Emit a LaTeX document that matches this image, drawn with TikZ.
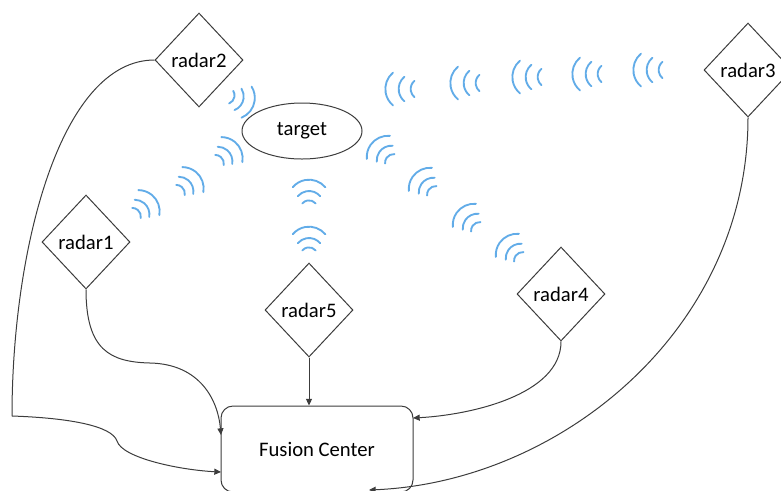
\documentclass[tikz,border=0pt]{standalone}
\usepackage{fontspec}
\setmainfont{Carlito}
\usetikzlibrary{shapes.geometric,arrows.meta}
\definecolor{wavecol}{RGB}{98,172,232}
\definecolor{linecol}{RGB}{60,60,60}
\begin{document}
\begin{tikzpicture}[x=0.75pt,y=-0.75pt,
  radar/.style={diamond, draw=linecol, line width=0.75pt, minimum width=66pt, minimum height=70.5pt, inner sep=0pt, font=\fontsize{15.5}{18}\selectfont},
  targetnode/.style={ellipse, draw=linecol, line width=0.75pt, minimum width=90pt, minimum height=42pt, inner sep=0pt, font=\fontsize{15.5}{18}\selectfont},
  fcbox/.style={rectangle, rounded corners=9pt, draw=linecol, line width=0.75pt, minimum width=144pt, minimum height=64.5pt, inner sep=0pt, font=\fontsize{15.5}{18}\selectfont},
  conn/.style={draw=linecol, line width=0.75pt, -{Triangle[length=5pt,width=4.5pt]}},
  plainline/.style={draw=linecol, line width=0.75pt},
  wavestyle/.style={draw=wavecol, line width=1.4pt, line cap=round},
  wave/.pic={
    \draw[wavestyle] ([shift={(-7.5pt,0pt)}]-50:16pt) arc[start angle=-50,end angle=50,radius=16pt];
    \draw[wavestyle] ([shift={(-11pt,0pt)}]-50:11pt) arc[start angle=-50,end angle=50,radius=11pt];
    \draw[wavestyle] ([shift={(-13.5pt,0pt)}]-50:6.5pt) arc[start angle=-50,end angle=50,radius=6.5pt];
  },
  widewave/.pic={
    \draw[wavestyle] ([shift={(-5pt,0pt)}]-50:16pt) arc[start angle=-50,end angle=50,radius=16pt];
    \draw[wavestyle] ([shift={(-11pt,0pt)}]-50:12pt) arc[start angle=-50,end angle=50,radius=12pt];
    \draw[wavestyle] ([shift={(-16pt,0pt)}]-50:8pt) arc[start angle=-50,end angle=50,radius=8pt];
  }]
\useasboundingbox (0,0) rectangle (781,490);

% nodes
\node[radar] (r1) at (86,242) {radar1};
\node[radar] (r2) at (199,60) {radar2};
\node[radar] (r3) at (748,70) {radar3};
\node[radar] (r4) at (561,294) {radar4};
\node[radar] (r5) at (309,310) {radar5};
\node[targetnode] (tg) at (302,131) {target};
\node[fcbox] (fc) at (317,449) {Fusion Center};

% connector end points on the fusion center
\coordinate (fcin1) at (221,435);
\coordinate (fcin2) at (221,472);
\coordinate (fcin3) at (413,418);
\coordinate (fcin4) at (369,490);
\coordinate (bend) at (12,416);
\coordinate (kink) at (117,441);

% connectors
\draw[conn] (r5.south) -- (fc.north -| r5.south);
\draw[conn] (r1.south) .. controls (86,350) and (110,362) .. (150,363) .. controls (200,364) and (218,400) .. (fcin1);
\draw[plainline] (r2.west) .. controls (60,60) and (12,250) .. (bend);
\draw[conn] (bend) .. controls (70,418) and (112,426) .. (kink) .. controls (122,458) and (180,470) .. (fcin2);
\draw[conn] (r4.south) .. controls (561,395) and (470,415) .. (fcin3);
\draw[conn] (r3.south) .. controls (748,330) and (560,482) .. (fcin4);

% waves: upper right row
\pic[rotate=180] at (400,89) {widewave};
\pic[rotate=180] at (465,83) {widewave};
\pic[rotate=180] at (527,77) {widewave};
\pic[rotate=180] at (587,74) {widewave};
\pic[rotate=180] at (648,70) {widewave};
% radar2
\pic[rotate=-18] at (243,101) {wave};
% radar1 diagonal
\pic[rotate=40] at (229,152) {wave};
\pic[rotate=40] at (190,182) {wave};
\pic[rotate=40] at (146,205) {wave};
% radar5 column
\pic[rotate=90] at (309,191) {wave};
\pic[rotate=90] at (309,238) {wave};
% radar4 diagonal
\pic[rotate=135] at (381,150) {wave};
\pic[rotate=135] at (423,182) {wave};
\pic[rotate=135] at (467,218) {wave};
\pic[rotate=135] at (510,248) {wave};
\end{tikzpicture}
\end{document}
